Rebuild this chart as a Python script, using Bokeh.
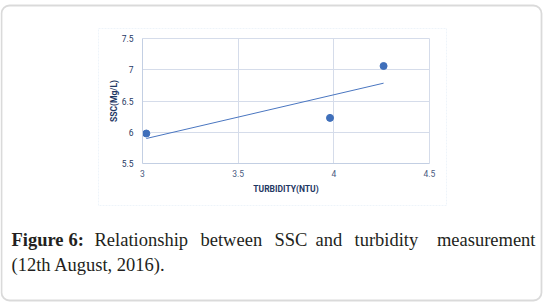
import numpy as np
from bokeh.plotting import figure
from bokeh.models import Label, BoxAnnotation, Range1d, FixedTicker, NumeralTickFormatter, Grid
from bokeh.embed import file_html
from bokeh.resources import INLINE

# ---- data ----
turbidity = [3.02, 3.98, 4.26]      # NTU
ssc = [5.98, 6.23, 7.06]            # Mg/L
x_ticks = [3, 3.5, 4, 4.5]
y_ticks = [5.5, 6, 6.5, 7, 7.5]
x_title = "TURBIDITY(NTU)"
y_title = "SSC(Mg/L)"
caption_bold = ["Figure", "6:"]
caption_line1 = ["Relationship", "between", "SSC", "and", "turbidity", "measurement"]
caption_line2 = "(12th August, 2016)."

# linear trendline (least squares, as the spreadsheet trendline)
slope, intercept = np.polyfit(turbidity, ssc, 1)
trend_x = [min(turbidity), max(turbidity)]
trend_y = [slope * v + intercept for v in trend_x]

# ---- layout (canvas pixels) ----
W, H = 544, 302
PX_L, PX_R, PY_T, PY_B = 142, 429, 38, 163   # plot area edges
x0, x1 = x_ticks[0], x_ticks[-1]
y0, y1 = y_ticks[0], y_ticks[-1]
kx = (PX_R - PX_L) / (x1 - x0)
ky = (PY_B - PY_T) / (y1 - y0)
xr = Range1d(x0 - PX_L / kx, x1 + (W - PX_R) / kx)
yr = Range1d(y0 - (H - PY_B) / ky, y1 + PY_T / ky)

p = figure(width=W, height=H, output_backend="svg", toolbar_location=None,
           x_range=xr, y_range=yr, min_border=0,
           min_border_left=0, min_border_right=0, min_border_top=0, min_border_bottom=0)
p.outline_line_color = None
p.background_fill_color = "white"
p.border_fill_color = "white"

grid_col = "#d5dcea"
axis_col = "#c3cfe3"
font = "Liberation Sans Narrow, Roboto, sans-serif"
for ax, ticks, loc in ((p.xaxis, x_ticks, y0), (p.yaxis, y_ticks, x0)):
    ax.fixed_location = loc
    ax.bounds = (ticks[0], ticks[-1])
    ax.ticker = FixedTicker(ticks=ticks)
    ax.formatter = NumeralTickFormatter(format="0.[0]")
    ax.major_tick_line_color = None
    ax.minor_tick_line_color = None
    ax.major_tick_out = 0
    ax.major_tick_in = 0
    ax.minor_tick_out = 0
    ax.minor_tick_in = 0
    ax.axis_line_color = axis_col
    ax.major_label_text_font = font
    ax.major_label_text_font_size = "8.5px"
    ax.axis_label_text_font = font
    ax.axis_label_text_font_size = "8.5px"
    ax.axis_label_text_font_style = "bold"
    ax.axis_label_text_color = "#1f3864"
p.xaxis.major_label_text_color = "#4a5b80"
p.yaxis.major_label_text_color = "#1f3864"
p.xaxis.major_label_standoff = 6
p.yaxis.major_label_standoff = 9
p.xaxis.axis_label = x_title
p.yaxis.axis_label = y_title
p.xaxis.axis_label_standoff = 4
p.yaxis.axis_label_standoff = 0

# grid lines limited to the plot area
p.grid.visible = False
if "cross_bounds" in Grid.properties():
    p.add_layout(Grid(dimension=0, ticker=FixedTicker(ticks=x_ticks[1:]), bounds=(x0, x1),
                      cross_bounds=(y0, y1), grid_line_color=grid_col))
    p.add_layout(Grid(dimension=1, ticker=FixedTicker(ticks=y_ticks[1:]), bounds=(y0, y1),
                      cross_bounds=(x0, x1), grid_line_color=grid_col))
else:
    gx = x_ticks[1:]
    gy = y_ticks[1:]
    p.segment(x0=gx, x1=gx, y0=[y0] * len(gx), y1=[y1] * len(gx), line_color=grid_col)
    p.segment(x0=[x0] * len(gy), x1=[x1] * len(gy), y0=gy, y1=gy, line_color=grid_col)

p.line(trend_x, trend_y, line_color="#4a76c0", line_width=1)
p.scatter(turbidity, ssc, size=7, fill_color="#3f6fba", line_color="#3f6fba")


def sy(py):
    return H - py


# chart area box (light dotted)
p.add_layout(BoxAnnotation(left=98, right=446, top=sy(28), bottom=sy(205),
                           left_units="screen", right_units="screen",
                           top_units="screen", bottom_units="screen",
                           fill_alpha=0, line_color="#c8daf0", line_width=1, line_dash="2 1",
                           level="underlay"))
# outer rounded frame
p.add_layout(BoxAnnotation(left=1, right=541, top=sy(5), bottom=sy(300),
                           left_units="screen", right_units="screen",
                           top_units="screen", bottom_units="screen",
                           fill_alpha=0, line_color="#858585", line_width=1.8,
                           border_radius=8, level="underlay"))

serif = "Liberation Serif"
cap_col = "#231f20"
fs = "18.5px"
line1_y = sy(239)
line2_y = sy(264)
bold_x = [11, 68]
for w, x in zip(caption_bold, bold_x):
    p.add_layout(Label(x=x, y=line1_y, x_units="screen", y_units="screen", text=w,
                       text_font=serif, text_font_size=fs, text_font_style="bold",
                       text_color=cap_col, text_baseline="alphabetic", text_align="left"))
word_x = [94, 200, 274, 315, 354, 535]
for i, (w, x) in enumerate(zip(caption_line1, word_x)):
    align = "right" if i == len(caption_line1) - 1 else "left"
    p.add_layout(Label(x=x, y=line1_y, x_units="screen", y_units="screen", text=w,
                       text_font=serif, text_font_size=fs, text_color=cap_col,
                       text_baseline="alphabetic", text_align=align))
p.add_layout(Label(x=11, y=line2_y, x_units="screen", y_units="screen", text=caption_line2,
                   text_font=serif, text_font_size=fs, text_color=cap_col,
                   text_baseline="alphabetic", text_align="left"))

open("out.html", "w").write(file_html(p, INLINE))
